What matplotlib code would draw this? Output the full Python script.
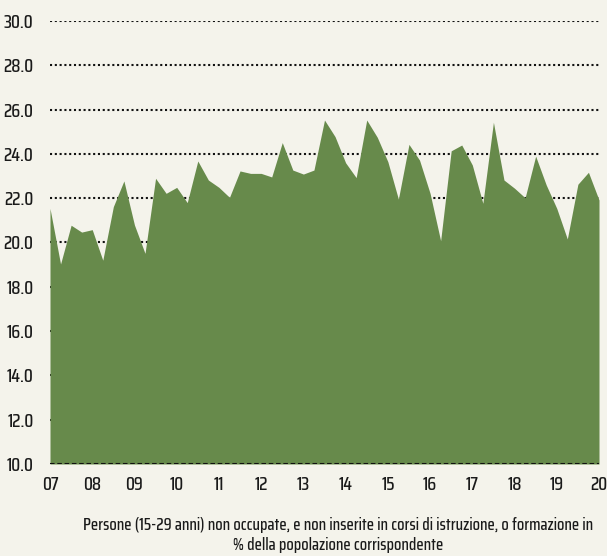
import matplotlib
matplotlib.use("Agg")
import matplotlib.pyplot as plt
import numpy as np

plt.rcParams['font.family'] = ['Saira Extra Condensed', 'Saira Condensed', 'Pathway Gothic One',
                               'Oswald', 'DejaVu Sans']

years = ["07", "08", "09", "10", "11", "12", "13", "14", "15", "16", "17", "18", "19", "20"]
values = [21.54, 19.03, 20.78, 20.47, 20.58, 19.2, 21.62, 22.78, 20.79, 19.51,
          22.9, 22.22, 22.49, 21.8, 23.68, 22.82, 22.49, 22.04, 23.23, 23.12,
          23.12, 22.96, 24.51, 23.27, 23.09, 23.27, 25.53, 24.78, 23.6, 22.93,
          25.53, 24.75, 23.65, 21.96, 24.43, 23.72, 22.22, 20.08, 24.14, 24.4,
          23.5, 21.77, 25.43, 22.82, 22.45, 22.02, 23.9, 22.6, 21.54, 20.16,
          22.63, 23.17, 21.92]
yticks = [10, 12, 14, 16, 18, 20, 22, 24, 26, 28, 30]
caption = "Persone (15-29 anni) non occupate, e non inserite in corsi di istruzione, o formazione in\n% della popolazione corrispondente"

bg = "#f4f3eb"
green = "#678a4b"

fig = plt.figure(figsize=(6.07, 5.56), dpi=100, facecolor=bg)
ax = fig.add_axes([50/607, 1-464/556, 549/607, 443/556], facecolor=bg)

x = np.arange(len(values))
for yv in yticks[1:]:
    ax.axhline(yv, color="#111111", linestyle=(0, (1, 1.3)), lw=1.5, zorder=1)
ax.fill_between(x, 10, values, color=green, lw=0, zorder=2)
ax.axhline(10, color="#111111", linestyle=(0, (2.2, 1.3)), lw=1.5, zorder=3)

ax.set_xlim(0, len(values) - 1)
ax.set_ylim(10, 30)
ax.set_yticks(yticks)
ax.set_yticklabels([f"{v:.1f}" for v in yticks], fontsize=13.5, color="#1a1a1a",
                   fontweight="medium")
ax.set_xticks(np.arange(0, len(values), 4))
ax.set_xticklabels(years, fontsize=13.5, color="#1a1a1a", fontweight="medium")
ax.tick_params(axis='both', length=0)
ax.tick_params(axis='y', pad=12)
ax.tick_params(axis='x', pad=9)
for s in ax.spines.values():
    s.set_visible(False)

fig.text(338/607, 1-535/556, caption, ha="center", va="center", fontsize=12,
         color="#1a1a1a", linespacing=1.25, fontweight="medium")

fig.savefig("out.png", dpi=100, facecolor=bg)
